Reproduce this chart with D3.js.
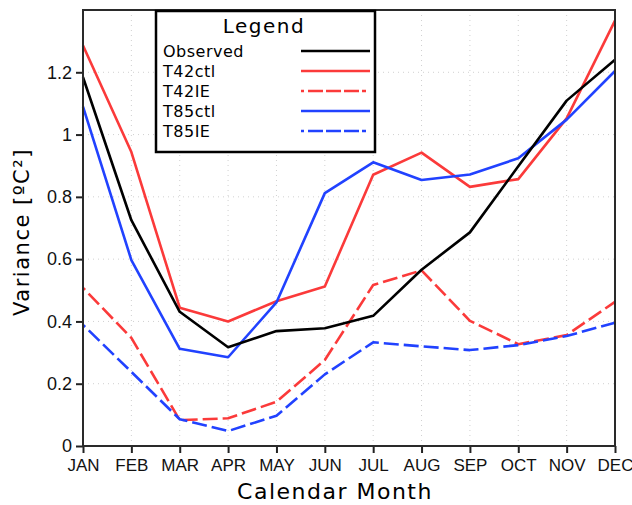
<!DOCTYPE html>
<html>
<head>
<meta charset="utf-8">
<script src="https://cdn.jsdelivr.net/npm/d3@7"></script>
<style>
  body { margin: 0; background: #fff; }
  svg { display: block; }
</style>
</head>
<body>
<div id="chart"></div>
<script>
// monthly variance
let months = ["JAN", "FEB", "MAR", "APR", "MAY", "JUN", "JUL", "AUG", "SEP", "OCT", "NOV", "DEC"];

let observed = [1.184, 0.725, 0.431, 0.317, 0.369, 0.378, 0.418, 0.566, 0.686, 0.898, 1.109, 1.240];
let t42ctl   = [1.286, 0.944, 0.444, 0.400, 0.465, 0.512, 0.871, 0.942, 0.832, 0.857, 1.052, 1.366];
let t42ie    = [0.508, 0.347, 0.083, 0.089, 0.142, 0.276, 0.517, 0.564, 0.402, 0.327, 0.356, 0.463];
let t85ctl   = [1.090, 0.597, 0.312, 0.285, 0.461, 0.812, 0.911, 0.854, 0.872, 0.924, 1.048, 1.204];
let t85ie    = [0.389, 0.238, 0.086, 0.048, 0.097, 0.230, 0.333, 0.320, 0.308, 0.324, 0.353, 0.396];

let yTicks = [0, 0.2, 0.4, 0.6, 0.8, 1, 1.2];

let series = [
    {name: "T42IE",    values: t42ie,    color: "#fb3a3a", dashed: true},
    {name: "T85IE",    values: t85ie,    color: "#2142ff", dashed: true},
    {name: "T42ctl",   values: t42ctl,   color: "#fb3a3a", dashed: false},
    {name: "T85ctl",   values: t85ctl,   color: "#2142ff", dashed: false},
    {name: "Observed", values: observed, color: "#000000", dashed: false}
];
let legendOrder = ["Observed", "T42ctl", "T42IE", "T85ctl", "T85IE"];

let width = 632, height = 505;
let margin = {top: 10, right: 17, bottom: 59, left: 83};
let plotW = width - margin.left - margin.right,
    plotH = height - margin.top - margin.bottom;

let tickFont = "'Liberation Sans Narrow', 'Liberation Sans', Arial, sans-serif";
let labelFont = "'DejaVu Sans', 'Liberation Sans', sans-serif";

let x = d3.scalePoint()
    .domain(months)
    .range([0, plotW]);

let y = d3.scaleLinear()
    .domain([0, 1.4])
    .range([plotH, 0]);

let svg = d3.select("#chart").append("svg")
    .attr("width", width)
    .attr("height", height);

let g = svg.append("g")
    .attr("transform", "translate(" + margin.left + "," + margin.top + ")");

// dotted grid
g.append("g").selectAll("line")
    .data(yTicks.slice(1))
  .enter().append("line")
    .attr("x1", 0).attr("x2", plotW)
    .attr("y1", d => y(d)).attr("y2", d => y(d))
    .style("stroke", "#d0d0d0")
    .style("stroke-width", "1px")
    .style("stroke-dasharray", "1,4");

g.append("g").selectAll("line")
    .data(months.slice(1, -1))
  .enter().append("line")
    .attr("x1", d => x(d)).attr("x2", d => x(d))
    .attr("y1", 0).attr("y2", plotH)
    .style("stroke", "#d0d0d0")
    .style("stroke-width", "1px")
    .style("stroke-dasharray", "1,4");

// axes
let xAxis = g.append("g")
    .attr("transform", "translate(0," + plotH + ")")
    .call(d3.axisBottom(x).tickSize(7).tickPadding(4));

let yAxis = g.append("g")
    .call(d3.axisLeft(y).tickValues(yTicks).tickFormat(d3.format("~g")).tickSize(7).tickPadding(4));

[xAxis, yAxis].forEach(function(a) {
    a.select(".domain").remove();
    a.selectAll(".tick line").style("stroke", "#222").style("stroke-width", "2px");
    a.selectAll(".tick text")
        .style("font-family", tickFont)
        .style("fill", "#111");
});
xAxis.selectAll(".tick text").style("font-size", "17px").attr("dy", "0.85em");
yAxis.selectAll(".tick text").style("font-size", "18px");

// lines
let line = d3.line()
    .x((d, i) => x(months[i]))
    .y(d => y(d));

g.selectAll(".series")
    .data(series)
  .enter().append("path")
    .attr("class", "series")
    .attr("d", d => line(d.values))
    .style("fill", "none")
    .style("stroke", d => d.color)
    .style("stroke-width", "2.6px")
    .style("stroke-linejoin", "round")
    .style("stroke-dasharray", d => d.dashed ? "15,5" : null)
    .style("stroke-dashoffset", d => d.dashed ? "12" : null);

// frame
g.append("rect")
    .attr("width", plotW)
    .attr("height", plotH)
    .style("fill", "none")
    .style("stroke", "#2a2a2a")
    .style("stroke-width", "2px");

// axis titles
svg.append("text")
    .attr("x", 335)
    .attr("y", 499)
    .attr("text-anchor", "middle")
    .style("font-family", labelFont)
    .style("font-size", "22px")
    .style("letter-spacing", "1.5px")
    .text("Calendar Month");

svg.append("text")
    .attr("transform", "translate(29," + (margin.top + plotH / 2 + 4) + ") rotate(-90)")
    .attr("text-anchor", "middle")
    .style("font-family", labelFont)
    .style("font-size", "21px")
    .style("letter-spacing", "1.5px")
    .text("Variance  [\u00BAC\u00B2]");

// legend
let legend = svg.append("g").attr("transform", "translate(156,11)");

legend.append("rect")
    .attr("width", 219)
    .attr("height", 141)
    .style("fill", "#fff")
    .style("stroke", "#000")
    .style("stroke-width", "2.5px");

legend.append("text")
    .attr("x", 108)
    .attr("y", 22)
    .attr("text-anchor", "middle")
    .style("font-family", labelFont)
    .style("font-size", "20px")
    .style("letter-spacing", "1.5px")
    .text("Legend");

let items = legend.selectAll(".item")
    .data(legendOrder.map(n => series.find(s => s.name === n)))
  .enter().append("g")
    .attr("class", "item")
    .attr("transform", (d, i) => "translate(0," + (40 + i * 20) + ")");

items.append("text")
    .attr("x", 7)
    .attr("y", 6)
    .style("font-family", labelFont)
    .style("font-size", "16px")
    .style("letter-spacing", "0.5px")
    .text(d => d.name);

items.append("line")
    .attr("x1", 145).attr("x2", 214)
    .attr("y1", 0).attr("y2", 0)
    .style("stroke", d => d.color)
    .style("stroke-width", "2.6px")
    .style("stroke-dasharray", d => d.dashed ? "3,4,15,3,15,3,15" : null);
</script>
</body>
</html>
